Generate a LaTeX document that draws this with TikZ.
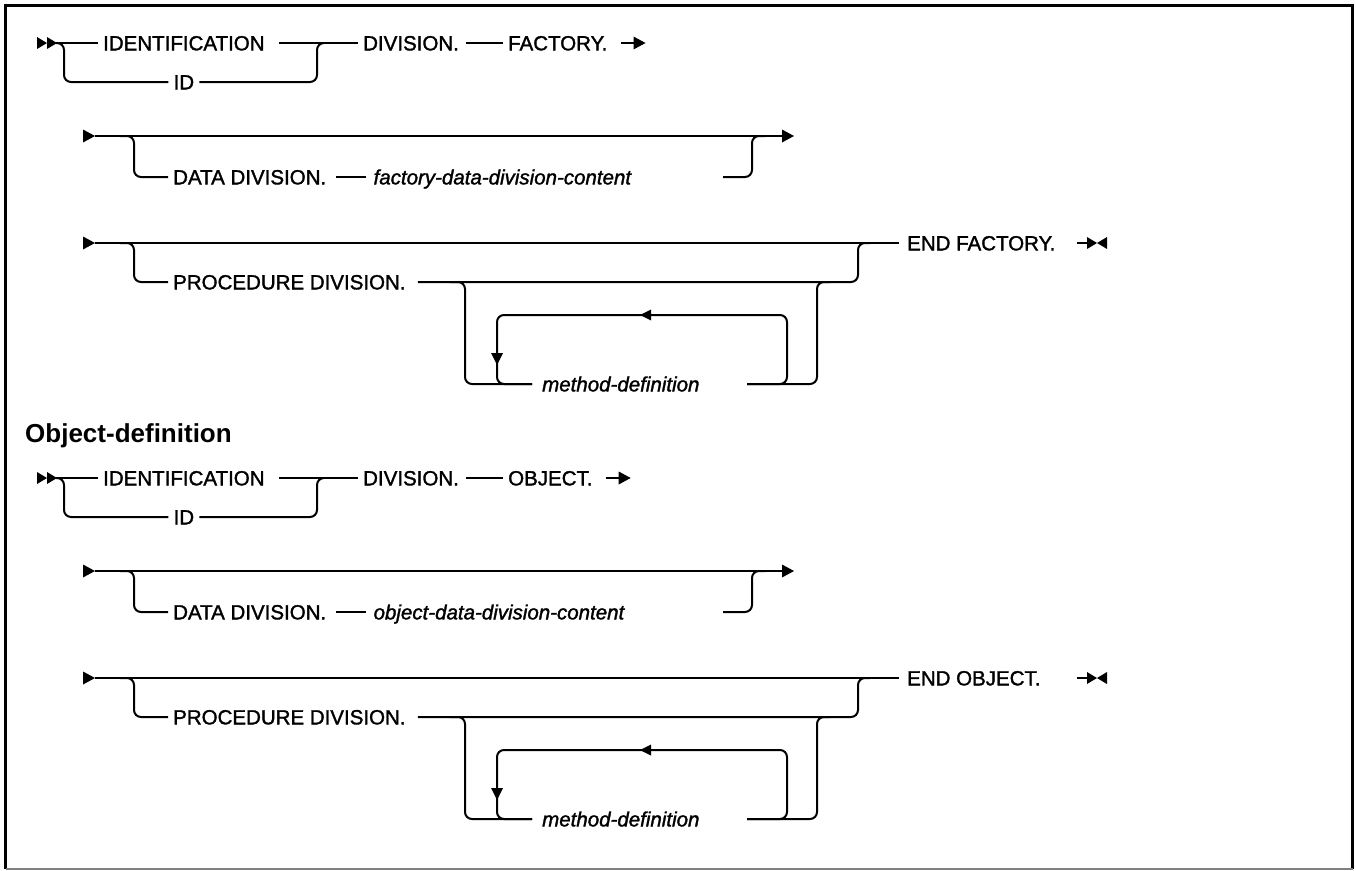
\documentclass[tikz,border=0pt]{standalone}
\usepackage{fontspec}
\setmainfont{Liberation Sans}
\newfontfamily\kwfam[FakeBold=1.5]{Liberation Sans}
\usetikzlibrary{calc}
\newcommand\kwfont{\kwfam\fontsize{20.5pt}{24pt}\selectfont}
\newcommand\varfont{\kwfam\fontsize{20.5pt}{24pt}\selectfont\itshape}
\newcommand\headfont{\fontsize{26pt}{30pt}\selectfont\bfseries}
\tikzset{
  ln/.style={line width=2pt},
  rc/.style={line width=2pt, rounded corners=7pt},
  kw/.style={inner sep=0pt, anchor=west, text height=14.7pt, text depth=0pt, font=\kwfont},
  var/.style={kw, font=\varfont},
  pics/tright/.style={code={\fill (0,0) -- (-12,-6.5) -- (-12,6.5) -- cycle;}},
  pics/tsright/.style={code={\fill (0,0) -- (-10,-6) -- (-10,6) -- cycle;}},
  pics/tsleft/.style={code={\fill (0,0) -- (10,-6) -- (10,6) -- cycle;}},
  pics/tleft/.style={code={\fill (0,0) -- (11,-5.5) -- (11,5.5) -- cycle;}},
  pics/tdown/.style={code={\fill (0,0) -- (-6,-12) -- (6,-12) -- cycle;}},
}
\newcommand\syntaxblock[5]{%
\begin{scope}[shift={(0,#2)}]
% row 1
\pic at (47,43) {tsright};
\pic at (57,43) {tsright};
\coordinate (#1s1) at (56,43);
\node[kw] (#1idf) at (103,43) {IDENTIFICATION};
\node[kw, anchor=center] (#1id) at ($(#1idf.center)+(0,39)$) {ID};
\node[kw] (#1div) at (363,43) {DIVISION.};
\node[kw] (#1wd) at (508,43) {#3};
\draw[ln] (#1s1) -- ([xshift=-5pt]#1idf.west);
\draw[rc] (#1s1) -- (64,43) -- (64,82) -- ([xshift=-5pt]#1id.west);
\draw[rc] ([xshift=5pt]#1id.east) -- (317,82) -- (317,43) -- (324,43);
\draw[ln] ([xshift=14pt]#1idf.east) -- ([xshift=-5pt]#1div.west);
\draw[ln] ([xshift=7pt]#1div.east) -- ([xshift=-5pt]#1wd.west);
\coordinate (#1a1) at ([xshift=38pt]#1wd.east);
\draw[ln] ([xshift=13pt]#1wd.east) -- ([xshift=-4pt]#1a1);
\pic at (#1a1) {tright};
% row 2
\coordinate (#1r2s) at (95,136);
\coordinate (#1r2e) at (794,136);
\pic at (#1r2s) {tright};
\draw[ln] (#1r2s) -- ([xshift=-4pt]#1r2e);
\pic at (#1r2e) {tright};
\node[kw] (#1dd) at (173,177) {DATA DIVISION.};
\draw[rc] (120,136) -- (134,136) -- (134,177) -- ([xshift=-5pt]#1dd.west);
\node[var] (#1ct) at ($(#1dd.east)+(47,0)$) {#4};
\draw[ln] ([xshift=10pt]#1dd.east) -- ([xshift=-7pt]#1ct.west);
\coordinate (#1cr) at (723,177);
\draw[rc] (#1cr) -- (752,177) -- (752,136) -- (765,136);
% row 3
\coordinate (#1r3s) at (95,243);
\pic at (#1r3s) {tright};
\node[kw] (#1end) at (907,243) {#5};
\draw[ln] (#1r3s) -- ([xshift=-8pt]#1end.west);
\node[kw] (#1pd) at (173,282) {PROCEDURE DIVISION.};
\draw[rc] (120,243) -- (134,243) -- (134,282) -- ([xshift=-5pt]#1pd.west);
\draw[rc] ([xshift=12pt]#1pd.east) -- (858,282) -- (858,243) -- (870,243);
\node[var] (#1md) at (542,384) {method-definition};
\coordinate (#1mr) at (747,384);
\draw[rc] (450,282) -- (465,282) -- (465,384) -- ([xshift=-10pt]#1md.west);
\draw[rc] (#1mr) -- (817,384) -- (817,282) -- (830,282);
\draw[rc] (#1mr) -- (787,384) -- (787,315) -- (497,315) -- (497,384) -- ([xshift=-10pt]#1md.west);
\pic at (640,315) {tleft};
\pic at (497,365) {tdown};
\coordinate (#1e1) at (1077,243);
\coordinate (#1e2) at (1097,243);
\draw[ln] (#1e1) -- ([xshift=-8pt]#1e2);
\pic at (#1e2) {tsright};
\pic at (#1e2) {tsleft};
\end{scope}}
\begin{document}
\begin{tikzpicture}[x=1pt, y=-1pt]
\useasboundingbox (0,0) rectangle (1356,870);
\draw[line width=2.5pt] (5.5,869) -- (5.5,5.5) -- (1352.5,5.5) -- (1352.5,869);
\draw[line width=1.5pt, gray] (5.5,869) -- (1352.5,869);
\syntaxblock{f}{0}{FACTORY.}{factory-data-division-content}{END FACTORY.}
\node[inner sep=0pt, anchor=west, font=\headfont, text height=19pt, text depth=0pt] (head) at (25,433) {Object-definition};
\syntaxblock{o}{435}{OBJECT.}{object-data-division-content}{END OBJECT.}
\end{tikzpicture}
\end{document}
